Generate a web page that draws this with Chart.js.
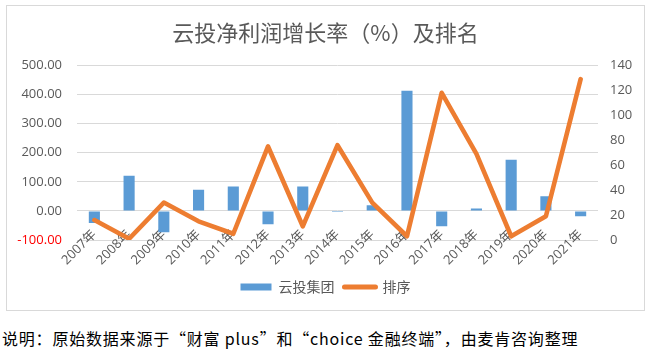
<!DOCTYPE html>
<html lang="zh-CN">
<head>
<meta charset="utf-8">
<script src="https://cdn.jsdelivr.net/npm/chart.js@4.4.1/dist/chart.umd.min.js"></script>
<style>
  body { margin: 0; background: #fff; width: 650px; height: 353px; position: relative; overflow: hidden; }
  #box { position: absolute; left: 6px; top: 5px; width: 639px; height: 306px; border: 1px solid #d9d9d9; box-sizing: border-box; }
  #note { position: absolute; left: 2px; top: 326px; font: 16px "Noto Sans CJK SC", sans-serif; letter-spacing: 0.8px; color: #000; white-space: nowrap; }
</style>
</head>
<body>
<div id="box"><canvas id="growthChart"></canvas></div>
<div id="note">说明：原始数据来源于“财富 plus”和“choice 金融终端”，由麦肯咨询整理</div>
<script>
const years = ['2007年', '2008年', '2009年', '2010年', '2011年', '2012年', '2013年', '2014年',
    '2015年', '2016年', '2017年', '2018年', '2019年', '2020年', '2021年'];
const growth = [-42, 121, -73, 73, 84, -46, 84, -4, 19, 413, -53, 8, 176, 50, -18];
const rank = [16, 1, 30, 15, 5, 75, 11, 76, 30, 3, 118, 69, 3, 19, 129];

const textColor = '#595959';
const fontFamily = "'Open Sans', 'Noto Sans CJK SC', sans-serif";

const ctx = document.getElementById('growthChart').getContext('2d');
const growthChart = new Chart(ctx, {
    type: 'bar',
    data: {
        labels: years,
        datasets: [{
            label: '云投集团',
            data: growth,
            backgroundColor: '#5B9BD5',
            barPercentage: 0.32,
            categoryPercentage: 1,
            yAxisID: 'y',
            order: 2
        }, {
            type: 'line',
            label: '排序',
            data: rank,
            borderColor: '#ED7D31',
            backgroundColor: '#ED7D31',
            borderWidth: 4.6,
            borderCapStyle: 'round',
            borderJoinStyle: 'round',
            pointRadius: 0,
            tension: 0,
            yAxisID: 'y1',
            order: 1
        }]
    },
    options: {
        responsive: true,
        maintainAspectRatio: false,
        animation: false,
        layout: { padding: { left: 0, right: 0, top: 0, bottom: 6 } },
        plugins: {
            title: {
                display: true,
                text: '云投净利润增长率（%）及排名',
                color: textColor,
                font: { family: "'Noto Sans CJK SC', sans-serif", size: 22, weight: 'normal' },
                padding: { top: 13, bottom: 20 }
            },
            legend: {
                position: 'bottom',
                labels: {
                    color: textColor,
                    font: { family: "'Noto Sans CJK SC', sans-serif", size: 14 },
                    usePointStyle: true,
                    pointStyleWidth: 31,
                    boxHeight: 7,
                    generateLabels: (chart) => {
                        const items = Chart.defaults.plugins.legend.labels.generateLabels(chart)
                            .sort((a, b) => a.datasetIndex - b.datasetIndex);
                        items[0].pointStyle = 'rect';
                        items[0].lineWidth = 0;
                        items[1].pointStyle = 'line';
                        items[1].lineWidth = 5;
                        items[1].lineCap = 'round';
                        return items;
                    }
                }
            },
            tooltip: { enabled: false }
        },
        scales: {
            x: {
                grid: { display: false, drawTicks: false },
                border: { display: false },
                ticks: {
                    color: textColor,
                    font: { family: fontFamily, size: 13 },
                    minRotation: 45,
                    maxRotation: 45,
                    padding: -13,
                    autoSkip: false
                },
                afterFit: (scale) => {
                    scale.height = 30;
                    // let the slanted year labels reach up into the plot like the original
                    scale._computeLabelArea = () => undefined;
                }
            },
            y: {
                position: 'left',
                min: -100,
                max: 500,
                grid: { color: '#d9d9d9', drawTicks: false },
                border: { display: false },
                ticks: {
                    stepSize: 100,
                    padding: 15,
                    font: { family: fontFamily, size: 13 },
                    color: (c) => c.tick && c.tick.value < 0 ? '#ff0000' : textColor,
                    callback: (v) => v.toFixed(2)
                },
                afterFit: (scale) => { scale.width = 70; }
            },
            y1: {
                position: 'right',
                min: 0,
                max: 140,
                grid: { drawOnChartArea: false, drawTicks: false },
                border: { display: false },
                ticks: {
                    stepSize: 20,
                    padding: 12,
                    font: { family: fontFamily, size: 13 },
                    color: textColor
                },
                afterFit: (scale) => { scale.width = 46; }
            }
        }
    }
});
</script>
</body>
</html>
